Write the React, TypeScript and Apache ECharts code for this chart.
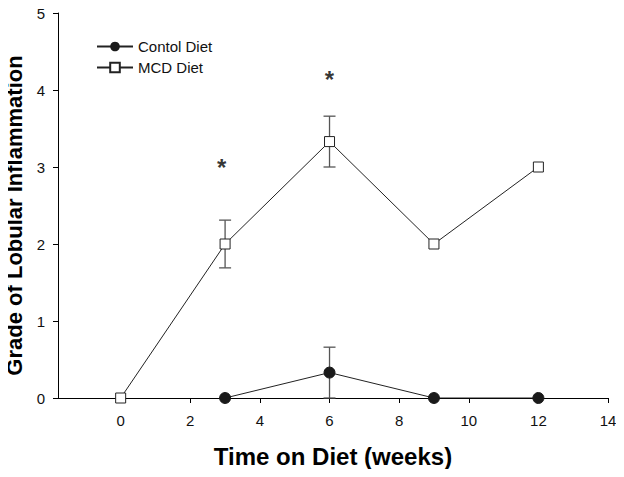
import React, { useEffect, useRef } from "react";
import * as echarts from "echarts";

const weeksMCD = [0, 3, 6, 9, 12];
const gradeMCD = [0, 2, 3.33, 2, 3];
const errMCD = [0, 0.31, 0.33, 0, 0];

const weeksControl = [3, 6, 9, 12];
const gradeControl = [0, 0.33, 0, 0];
const errControl = [0, 0.33, 0, 0];

const xTicks = [0, 2, 4, 6, 8, 10, 12, 14];
const starPoints = [
  [2.9, 3.0],
  [6.0, 4.13],
];

const FONT = "Liberation Sans, Arial, sans-serif";

export default function App() {
  const ref = useRef<HTMLDivElement>(null);
  useEffect(() => {
    if (!ref.current) return;
    const chart = echarts.init(ref.current, null, { renderer: "svg" });

    const errData: number[][] = [];
    weeksMCD.forEach((x, i) => {
      if (errMCD[i] > 0) errData.push([x, gradeMCD[i] - errMCD[i], gradeMCD[i] + errMCD[i]]);
    });
    weeksControl.forEach((x, i) => {
      if (errControl[i] > 0)
        errData.push([x, Math.max(0, gradeControl[i] - errControl[i]), gradeControl[i] + errControl[i]]);
    });

    chart.setOption({
      animation: false,
      textStyle: { fontFamily: FONT },
      grid: { left: 58, right: 16, top: 13, bottom: 79, containLabel: false, outerBoundsMode: "none" },
      legend: {
        data: ["Contol Diet", "MCD Diet"],
        orient: "vertical",
        left: 91,
        top: 34,
        itemWidth: 36,
        itemHeight: 12,
        itemGap: 6,
        textStyle: { fontSize: 15, color: "#111", fontFamily: FONT },
      },
      xAxis: {
        type: "value",
        min: -1.8,
        max: 14,
        name: "Time on Diet (weeks)",
        nameLocation: "middle",
        nameGap: 46,
        nameTextStyle: { fontSize: 24, fontWeight: "bold", color: "#000", fontFamily: FONT },
        axisLine: { onZero: false, lineStyle: { color: "#000", width: 1 } },
        axisTick: { customValues: xTicks, length: 5, lineStyle: { color: "#000" } },
        axisLabel: { customValues: xTicks, fontSize: 15, color: "#111", margin: 15 },
        splitLine: { show: false },
      },
      yAxis: {
        type: "value",
        min: 0,
        max: 5,
        interval: 1,
        name: "Grade of Lobular Inflammation",
        nameLocation: "middle",
        nameGap: 28,
        nameTextStyle: {
          fontSize: 22,
          fontWeight: "bold",
          color: "#000",
          fontFamily: FONT,
          padding: [0, 20, 0, 0],
        },
        axisLine: { show: true, onZero: false, lineStyle: { color: "#000", width: 1 } },
        axisTick: { show: true, length: 5, lineStyle: { color: "#000" } },
        axisLabel: { fontSize: 15, color: "#111", margin: 13 },
        splitLine: { show: false },
      },
      series: [
        {
          type: "custom",
          name: "err",
          data: errData,
          encode: { x: 0, y: [1, 2] },
          z: 1,
          renderItem: (params: any, api: any) => {
            const x = api.value(0);
            const lo = api.coord([x, api.value(1)]);
            const hi = api.coord([x, api.value(2)]);
            const half = 6;
            const style = { stroke: "#555", lineWidth: 1.3 };
            return {
              type: "group",
              children: [
                { type: "line", shape: { x1: lo[0], y1: lo[1], x2: hi[0], y2: hi[1] }, style },
                { type: "line", shape: { x1: hi[0] - half, y1: hi[1], x2: hi[0] + half, y2: hi[1] }, style },
                { type: "line", shape: { x1: lo[0] - half, y1: lo[1], x2: lo[0] + half, y2: lo[1] }, style },
              ],
            };
          },
        },
        {
          type: "line",
          name: "Contol Diet",
          data: weeksControl.map((x, i) => [x, gradeControl[i]]),
          symbol: "circle",
          symbolSize: 11,
          z: 3,
          lineStyle: { color: "#222", width: 1 },
          itemStyle: { color: "#1a1a1a", borderColor: "#1a1a1a" },
        },
        {
          type: "line",
          name: "MCD Diet",
          data: weeksMCD.map((x, i) => [x, gradeMCD[i]]),
          symbol: "rect",
          symbolSize: 10,
          z: 4,
          lineStyle: { color: "#222", width: 1 },
          itemStyle: { color: "#fff", borderColor: "#222", borderWidth: 1 },
        },
        {
          type: "scatter",
          name: "stars",
          data: starPoints,
          symbolSize: 0,
          z: 5,
          label: {
            show: true,
            position: "inside",
            formatter: "*",
            fontSize: 24,
            fontWeight: "bold",
            color: "#000",
          },
        },
      ],
    });
    return () => chart.dispose();
  }, []);
  return <div ref={ref} style={{ width: 624, height: 477, margin: -8 }} />;
}
